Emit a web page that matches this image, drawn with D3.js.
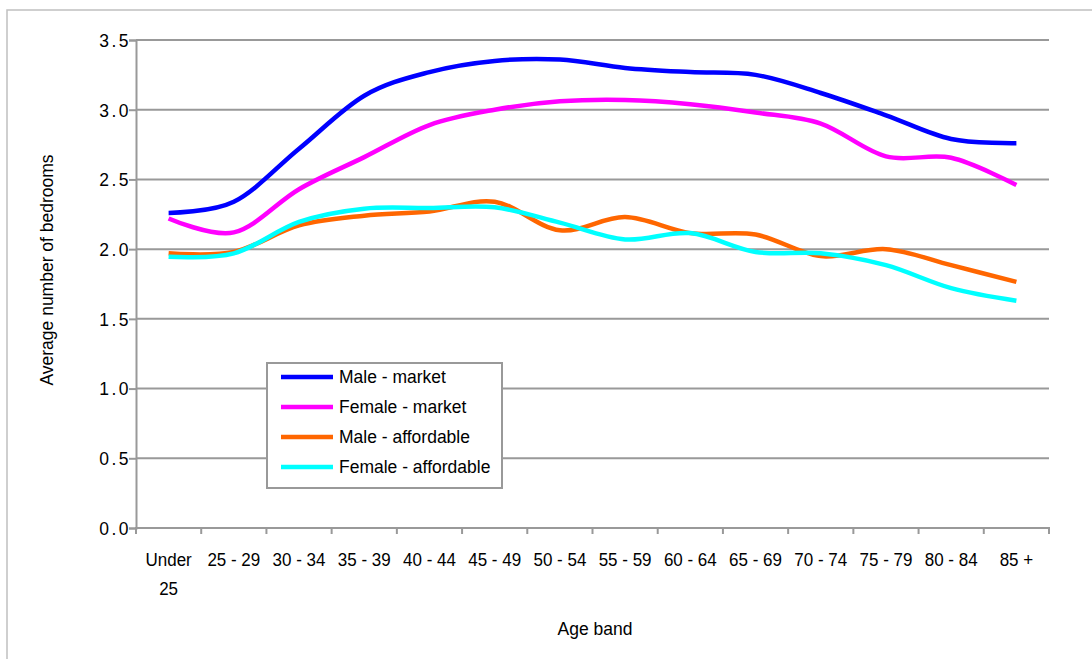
<!DOCTYPE html>
<html>
<head>
<meta charset="utf-8">
<script src="https://cdn.jsdelivr.net/npm/d3@7"></script>
<style>
  body { margin: 0; background: #fff; }
  svg { display: block; font-family: "Liberation Sans", Arial, sans-serif; }
</style>
</head>
<body>
<script>
const ageBands = ["Under 25","25 - 29","30 - 34","35 - 39","40 - 44","45 - 49","50 - 54",
                  "55 - 59","60 - 64","65 - 69","70 - 74","75 - 79","80 - 84","85 +"];
const maleMarket       = [2.26, 2.34, 2.72, 3.10, 3.27, 3.35, 3.36, 3.30, 3.27, 3.25, 3.12, 2.96, 2.79, 2.76];
const femaleMarket     = [2.22, 2.12, 2.43, 2.66, 2.89, 3.00, 3.06, 3.07, 3.04, 2.98, 2.90, 2.665, 2.655, 2.46];
const maleAffordable   = [1.97, 1.98, 2.17, 2.24, 2.27, 2.34, 2.135, 2.23, 2.115, 2.105, 1.95, 2.00, 1.885, 1.765];
const femaleAffordable = [1.945, 1.97, 2.195, 2.29, 2.295, 2.30, 2.19, 2.07, 2.115, 1.98, 1.97, 1.885, 1.72, 1.63];
const seriesNames  = ["Male - market","Female - market","Male - affordable","Female - affordable"];
const seriesColors = ["#0000ff","#ff00ff","#ff6600","#00ffff"];
const yTicks = [0, 0.5, 1.0, 1.5, 2.0, 2.5, 3.0, 3.5];

const W = 1092, H = 659;
const plotL = 136, plotR = 1049, plotT = 40, plotB = 528;
const grey = "#999";
const stretch = "scale(1,1.09)"; // text in the original is a little taller than Arial

const svg = d3.select("body").append("svg")
  .attr("width", W)
  .attr("height", H);

// outer frame
svg.append("rect")
  .attr("x", 7).attr("y", 10)
  .attr("width", 1200).attr("height", 800)
  .attr("fill", "none")
  .attr("stroke", "#c0c0c0")
  .attr("stroke-width", 1.5);

const x = d3.scaleBand().domain(ageBands).range([plotL, plotR]);
const y = d3.scaleLinear().domain([0, 3.5]).range([plotB, plotT]);
const cx = d => x(d) + x.bandwidth() / 2;

// gridlines
svg.append("g")
  .selectAll("line")
  .data(yTicks.filter(d => d > 0))
  .join("line")
  .attr("x1", plotL).attr("x2", plotR)
  .attr("y1", d => y(d)).attr("y2", d => y(d))
  .attr("stroke", grey).attr("stroke-width", 2);

// y axis
const yAxis = svg.append("g")
  .attr("transform", `translate(${plotL},0)`)
  .call(d3.axisLeft(y).tickValues(yTicks).tickFormat(d3.format(".1f")).tickSize(7).tickPadding(8));
yAxis.select(".domain").attr("stroke", grey).attr("stroke-width", 2);
yAxis.selectAll(".tick line").attr("stroke", grey).attr("stroke-width", 2);
yAxis.selectAll(".tick text")
  .attr("fill", "#000")
  .style("font-size", "17.5px")
  .style("letter-spacing", "2.5px")
  .attr("dy", "0.33em")
  .attr("x", -5)
  .attr("transform", stretch);

// x axis line + ticks at band edges
svg.append("line")
  .attr("x1", plotL - 1).attr("x2", plotR + 1)
  .attr("y1", plotB).attr("y2", plotB)
  .attr("stroke", grey).attr("stroke-width", 2);
svg.append("g")
  .selectAll("line")
  .data(ageBands.map(d => x(d)).concat([plotR]))
  .join("line")
  .attr("x1", d => d).attr("x2", d => d)
  .attr("y1", plotB).attr("y2", plotB + 6)
  .attr("stroke", grey).attr("stroke-width", 2);

// x labels
const xl = svg.append("g")
  .selectAll("text")
  .data(ageBands)
  .join("text")
  .attr("text-anchor", "middle")
  .attr("transform", d => `translate(${cx(d)},566) ${stretch}`)
  .style("font-size", "17px")
  .attr("fill", "#000");
xl.each(function(d) {
  const parts = d === "Under 25" ? ["Under", "25"] : [d];
  d3.select(this).selectAll("tspan")
    .data(parts)
    .join("tspan")
    .attr("x", 0)
    .attr("dy", (p, i) => i === 0 ? 0 : 26.3)
    .text(p => p);
});

// axis titles
svg.append("text")
  .attr("transform", "translate(53,270) rotate(-90) " + stretch)
  .attr("text-anchor", "middle")
  .style("font-size", "17.5px")
  .text("Average number of bedrooms");
svg.append("text")
  .attr("transform", "translate(595,635) " + stretch)
  .attr("text-anchor", "middle")
  .style("font-size", "17.5px")
  .text("Age band");

// lines
const allSeries = [maleMarket, femaleMarket, maleAffordable, femaleAffordable];
const line = d3.line()
  .x((d, i) => cx(ageBands[i]))
  .y(d => y(d))
  .curve(d3.curveCardinal.tension(0));

svg.append("g")
  .selectAll("path")
  .data(allSeries)
  .join("path")
  .attr("d", line)
  .attr("fill", "none")
  .attr("stroke", (d, i) => seriesColors[i])
  .attr("stroke-width", 4.5)
  .attr("stroke-linejoin", "round");

// legend
const legend = svg.append("g");
legend.append("rect")
  .attr("x", 267).attr("y", 363)
  .attr("width", 235).attr("height", 125)
  .attr("fill", "#fff")
  .attr("stroke", grey).attr("stroke-width", 2);
const items = legend.selectAll("g.item")
  .data(seriesNames)
  .join("g")
  .attr("class", "item")
  .attr("transform", (d, i) => `translate(0,${377 + i * 30})`);
items.append("line")
  .attr("x1", 281).attr("x2", 333)
  .attr("stroke", (d, i) => seriesColors[i])
  .attr("stroke-width", 4.5);
items.append("text")
  .attr("transform", "translate(339,6) " + stretch)
  .style("font-size", "17.5px")
  .text(d => d);
</script>
</body>
</html>
